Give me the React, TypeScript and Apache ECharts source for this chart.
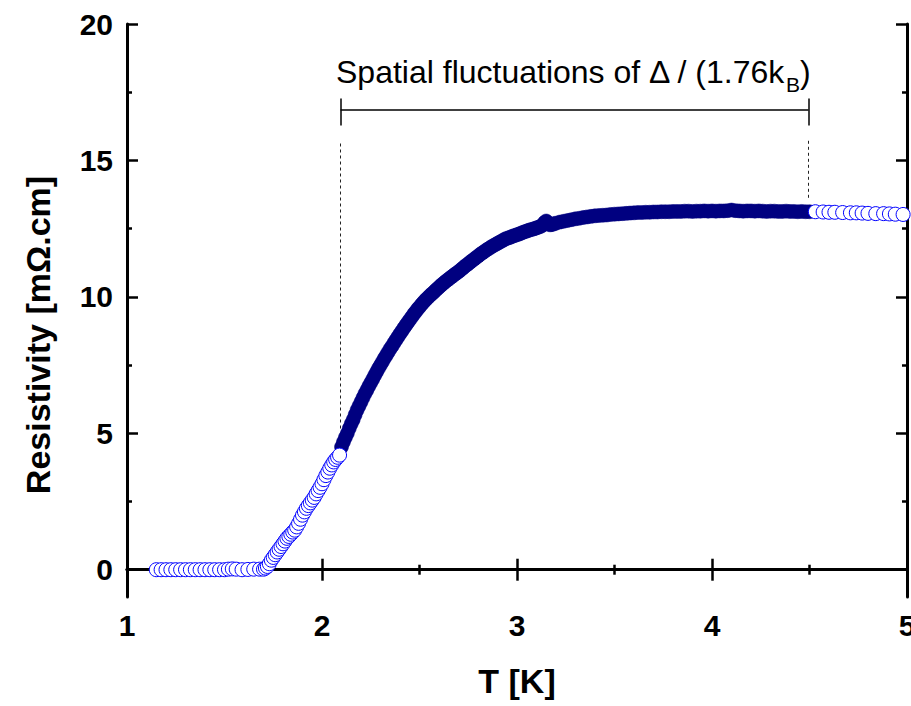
import React, { useEffect, useRef } from "react";
import * as echarts from "echarts";

// Open circles (low temperature part)
const openLowT = [1.15, 1.175, 1.2, 1.225, 1.25, 1.275, 1.3, 1.325, 1.35, 1.375, 1.4, 1.425, 1.45, 1.475, 1.5, 1.52, 1.54, 1.56, 1.59, 1.62, 1.65, 1.68,
  1.7, 1.71, 1.72, 1.73, 1.74, 1.75, 1.76, 1.77, 1.78, 1.79, 1.8, 1.81, 1.82, 1.83, 1.84, 1.85, 1.86, 1.87, 1.88, 1.89, 1.9, 1.91, 1.92, 1.93, 1.94, 1.95, 1.96, 1.97, 1.98, 1.99, 2.0, 2.01, 2.02, 2.03, 2.04, 2.05, 2.06, 2.07, 2.08, 2.09];
const openLowR = [0, 0, 0, 0, 0, 0, 0, 0, 0, 0, 0, 0, 0, 0, 0, 0.02, 0.03, 0.02, 0, 0.01, 0.02, 0.02,
  0.02, 0.06, 0.12, 0.22, 0.35, 0.45, 0.55, 0.65, 0.75, 0.85, 0.95, 1.05, 1.15, 1.22, 1.3, 1.38, 1.45, 1.57, 1.7, 1.85, 2.0, 2.12, 2.25, 2.35, 2.45, 2.55, 2.65, 2.78, 2.9, 3.02, 3.15, 3.3, 3.45, 3.58, 3.72, 3.84, 3.95, 4.04, 4.12, 4.2];

// Open circles (high temperature part)
const openHighT = [4.53, 4.57, 4.6, 4.63, 4.67, 4.71, 4.74, 4.77, 4.8, 4.84, 4.88, 4.91, 4.94, 4.98];
const openHighR = [13.12, 13.11, 13.1, 13.1, 13.09, 13.08, 13.08, 13.07, 13.06, 13.05, 13.05, 13.04, 13.03, 13.02];

// Filled circles (measured window)
const filledT = [
  2.1, 2.11, 2.12, 2.13, 2.14, 2.15, 2.16, 2.17, 2.18, 2.19, 2.2, 2.21, 2.22, 2.23, 2.24, 2.25, 2.26, 2.27, 2.28, 2.29,
  2.3, 2.31, 2.32, 2.33, 2.34, 2.35, 2.36, 2.37, 2.38, 2.39, 2.4, 2.41, 2.42, 2.43, 2.44, 2.45, 2.46, 2.47, 2.48, 2.49,
  2.5, 2.51, 2.52, 2.53, 2.54, 2.55, 2.56, 2.57, 2.58, 2.59, 2.6, 2.61, 2.62, 2.63, 2.64, 2.65, 2.66, 2.67, 2.68, 2.69,
  2.7, 2.71, 2.72, 2.73, 2.74, 2.75, 2.76, 2.77, 2.78, 2.79, 2.8, 2.81, 2.82, 2.83, 2.84, 2.85, 2.86, 2.87, 2.88, 2.89,
  2.9, 2.91, 2.92, 2.93, 2.94, 2.95, 2.96, 2.97, 2.98, 2.99, 3.0, 3.01, 3.02, 3.03, 3.04, 3.05, 3.06, 3.07, 3.08, 3.09,
  3.1, 3.11, 3.12, 3.13, 3.14, 3.15, 3.16, 3.17, 3.18, 3.19, 3.2,
  3.22, 3.24, 3.26, 3.28, 3.3, 3.32, 3.34, 3.36, 3.38, 3.4, 3.42, 3.44, 3.46, 3.48, 3.5, 3.52, 3.54, 3.56, 3.58, 3.6,
  3.62, 3.64, 3.66, 3.68, 3.7, 3.72, 3.74, 3.76, 3.78, 3.8, 3.82, 3.84, 3.86, 3.88, 3.9, 3.92, 3.94, 3.96, 3.98, 4.0,
  4.02, 4.04, 4.06, 4.08, 4.1, 4.12, 4.14, 4.16, 4.18, 4.2, 4.22, 4.24, 4.26, 4.28, 4.3, 4.32, 4.34, 4.36, 4.38, 4.4,
  4.42, 4.44, 4.46, 4.48, 4.5];
const filledR = [
  4.5, 4.68, 4.85, 5.0, 5.18, 5.35, 5.5, 5.68, 5.85, 6.0, 6.15, 6.3, 6.45, 6.58, 6.72, 6.85, 6.98, 7.12, 7.25, 7.38,
  7.5, 7.62, 7.75, 7.86, 7.98, 8.1, 8.2, 8.32, 8.43, 8.54, 8.65, 8.75, 8.86, 8.96, 9.06, 9.16, 9.26, 9.36, 9.45, 9.55,
  9.63, 9.72, 9.8, 9.88, 9.95, 10.02, 10.09, 10.15, 10.22, 10.29, 10.35, 10.42, 10.48, 10.54, 10.6, 10.65, 10.71, 10.76, 10.82, 10.87,
  10.92, 10.98, 11.04, 11.1, 11.16, 11.21, 11.27, 11.33, 11.38, 11.44, 11.49, 11.55, 11.6, 11.65, 11.7, 11.75, 11.79, 11.84, 11.88, 11.92,
  11.96, 12.0, 12.04, 12.08, 12.12, 12.15, 12.17, 12.2, 12.23, 12.25, 12.28, 12.3, 12.33, 12.36, 12.39, 12.41, 12.44, 12.46, 12.48, 12.5,
  12.53, 12.55, 12.58, 12.62, 12.72, 12.78, 12.7, 12.64, 12.65, 12.68, 12.7,
  12.74, 12.77, 12.8, 12.83, 12.86, 12.88, 12.91, 12.93, 12.95, 12.97, 12.98, 12.99, 13.0, 13.02, 13.03, 13.04, 13.05, 13.06, 13.07, 13.08,
  13.09, 13.09, 13.1, 13.1, 13.11, 13.11, 13.12, 13.12, 13.12, 13.13, 13.13, 13.13, 13.14, 13.14, 13.13, 13.14, 13.14, 13.15, 13.14, 13.15,
  13.14, 13.15, 13.15, 13.16, 13.18, 13.16, 13.15, 13.14, 13.15, 13.15, 13.14, 13.15, 13.14, 13.13, 13.14, 13.14, 13.13, 13.13, 13.14, 13.13,
  13.13, 13.12, 13.13, 13.12, 13.12];

// Axis ticks
const xTicks = { min: 1, max: 5, interval: 1 };
const yMajor = [0, 5, 10, 15, 20];
const yMinor = [2.5, 7.5, 12.5, 17.5];
const yRange = { min: -1, max: 20 };

// Annotation (data coordinates)
const bracketT = [2.095, 4.495];
const bracketY = 16.85;
const capY = [16.28, 17.27];
const dashLeft = [15.62, 5.1];
const dashRight = [15.72, 13.55];
const annotationText = "Spatial fluctuations of Δ / (1.76k";

const FONT = "'Liberation Sans', Arial, Helvetica, sans-serif";

export default function App() {
  const ref = useRef<HTMLDivElement>(null);
  useEffect(() => {
    const chart = echarts.init(ref.current!, null, { renderer: "svg" });
    const axisLine = { show: true, lineStyle: { color: "#000", width: 3 } };
    const majorTick = { show: true, inside: true, length: 11, lineStyle: { color: "#000", width: 2.5 } };
    const minorTickX = { show: true, splitNumber: 2, length: 5, lineStyle: { color: "#000", width: 2.5 } };
    const labelStyle = { color: "#000", fontSize: 30, fontWeight: "bold" as const, fontFamily: FONT };

    const zip = (a: number[], b: number[]) => a.map((v, i) => [v, b[i]]);
    const openData = [...zip(openLowT, openLowR), ...zip(openHighT, openHighR)];
    const filledData = zip(filledT, filledR);

    const solid = { type: "solid" as const, width: 1.5, color: "#000" };
    const dashed = { type: [3, 3] as any, width: 1, color: "#222" };

    chart.setOption({
      animation: false,
      backgroundColor: "#fff",
      grid: { left: 127, right: 4, top: 24, bottom: 109, containLabel: false, outerBoundsMode: "none" },
      xAxis: [
        {
          type: "value", position: "bottom", ...xTicks,
          axisLine, axisTick: majorTick, minorTick: minorTickX,
          splitLine: { show: false }, minorSplitLine: { show: false },
          axisLabel: { ...labelStyle, margin: 13 },
          name: "T [K]", nameLocation: "middle", nameGap: 67,
          nameTextStyle: { color: "#000", fontSize: 34, fontWeight: "bold", fontFamily: FONT },
        },
        {
          type: "value", position: "top", ...xTicks,
          axisLine, axisTick: majorTick, minorTick: minorTickX,
          splitLine: { show: false }, axisLabel: { show: false },
        },
      ],
      yAxis: [
        {
          type: "value", position: "left", ...yRange,
          axisLine, axisTick: { ...majorTick, customValues: yMajor },
          splitLine: { show: false },
          axisLabel: { ...labelStyle, margin: 14, customValues: yMajor },
        },
        {
          type: "value", position: "left", ...yRange,
          axisLine: { show: false },
          axisTick: { show: true, inside: true, length: 5, lineStyle: { color: "#000", width: 2.5 }, customValues: yMinor },
          splitLine: { show: false }, axisLabel: { show: false },
        },
        {
          type: "value", position: "right", ...yRange,
          axisLine, axisTick: { ...majorTick, customValues: yMajor },
          splitLine: { show: false }, axisLabel: { show: false },
        },
        {
          type: "value", position: "right", ...yRange,
          axisLine: { show: false },
          axisTick: { show: true, inside: true, length: 5, lineStyle: { color: "#000", width: 2.5 }, customValues: yMinor },
          splitLine: { show: false }, axisLabel: { show: false },
        },
      ],
      series: [
        {
          type: "scatter", xAxisIndex: 0, yAxisIndex: 0,
          data: filledData, symbol: "circle", symbolSize: 14,
          itemStyle: { color: "#000080", borderColor: "#000080", borderWidth: 0.5, opacity: 1 },
          z: 2,
          markLine: {
            silent: true, symbol: ["none", "none"], label: { show: false }, animation: false,
            emphasis: { disabled: true },
            data: [
              [{ coord: [bracketT[0], bracketY], lineStyle: solid }, { coord: [bracketT[1], bracketY] }],
              [{ coord: [bracketT[0], capY[0]], lineStyle: solid }, { coord: [bracketT[0], capY[1]] }],
              [{ coord: [bracketT[1], capY[0]], lineStyle: solid }, { coord: [bracketT[1], capY[1]] }],
              [{ coord: [bracketT[0], dashLeft[0]], lineStyle: dashed }, { coord: [bracketT[0], dashLeft[1]] }],
              [{ coord: [bracketT[1], dashRight[0]], lineStyle: dashed }, { coord: [bracketT[1], dashRight[1]] }],
            ],
          },
        },
        {
          type: "scatter", xAxisIndex: 0, yAxisIndex: 0,
          data: openData, symbol: "circle", symbolSize: 14,
          itemStyle: { color: "#fff", borderColor: "#0000ff", borderWidth: 1, opacity: 1 },
          z: 3,
        },
      ],
      graphic: [
        {
          type: "text", x: 38, y: 335, rotation: Math.PI / 2,
          style: {
            text: "Resistivity [mΩ.cm]", fill: "#000",
            font: `bold 34px ${FONT}`, textAlign: "center", textVerticalAlign: "middle",
          },
        },
        {
          type: "text", x: 336, y: 56,
          style: {
            text: `{a|${annotationText}}{b|B}{a|)}`,
            textVerticalAlign: "top",
            rich: {
              a: { fontSize: 32, fontFamily: FONT, fill: "#000", color: "#000", lineHeight: 32, verticalAlign: "top" },
              b: { fontSize: 21, fontFamily: FONT, fill: "#000", color: "#000", lineHeight: 21, verticalAlign: "top", padding: [18, 0, 0, 0] },
            },
          },
        },
      ],
    });
    return () => chart.dispose();
  }, []);
  return <div ref={ref} style={{ position: "absolute", left: 0, top: 0, width: 911, height: 706 }} />;
}
